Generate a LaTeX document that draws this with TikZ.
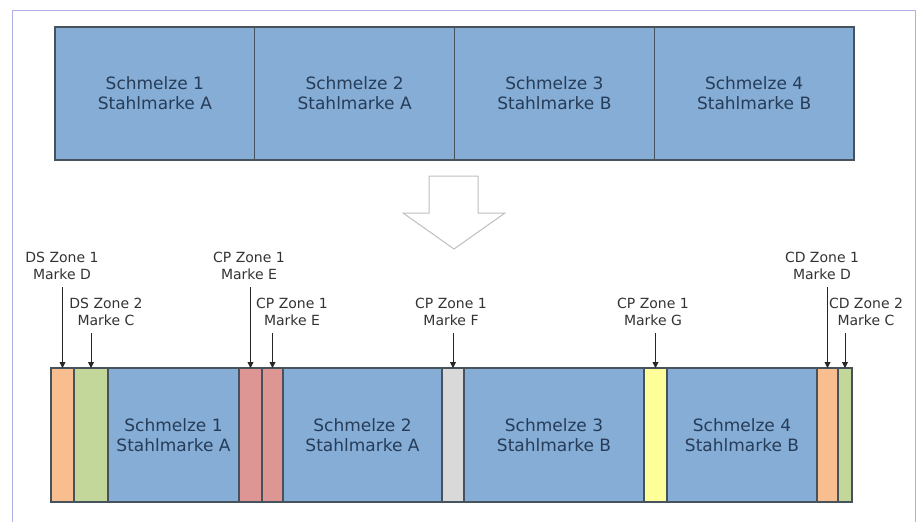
\documentclass[tikz,border=0pt]{standalone}
\usepackage{fontspec}
\setmainfont{DejaVu Sans}
\usetikzlibrary{positioning,arrows.meta}

\definecolor{schmelzeblau}{RGB}{133,173,213}
\definecolor{randgrau}{RGB}{70,82,92}
\definecolor{textblau}{RGB}{38,60,88}
\definecolor{zoneorange}{RGB}{249,190,143}
\definecolor{zonegruen}{RGB}{196,215,155}
\definecolor{zonerot}{RGB}{222,150,148}
\definecolor{zonegrau}{RGB}{217,217,217}
\definecolor{zonegelb}{RGB}{255,255,153}
\definecolor{rahmenlila}{RGB}{176,176,230}

\tikzset{
  seg/.style={draw=randgrau, line width=1.2pt, rectangle, inner sep=0pt, outer sep=0pt,
    minimum height=134pt, align=center, text=textblau,
    font=\fontsize{17}{20}\selectfont},
  schmelze/.style={seg, fill=schmelzeblau},
  zlabel/.style={align=center, inner sep=4pt, text=black!80,
    font=\fontsize{14}{17}\selectfont},
  zpfeil/.style={-{Triangle[length=6pt,width=6pt]}, line width=0.9pt, draw=black!85, shorten <=4pt},
  hohlpfeil/.style={draw=black!25, line width=1pt, fill=white, line join=miter},
  rahmen/.style={draw=rahmenlila, line width=1pt}
}

\begin{document}
\begin{tikzpicture}[x=1pt, y=-1pt, node distance=0pt]
\useasboundingbox (0,0) rectangle (923,522);
\draw[rahmen] (12,522) -- (12,10) -- (915,10) -- (915,522);
% obere Reihe
\node[schmelze, minimum width=199.75pt, minimum height=133pt] (s1) at (154.875,93.5) {Schmelze 1\\Stahlmarke A};
\node[schmelze, minimum width=199.75pt, minimum height=133pt, right=of s1] (s2) {Schmelze 2\\Stahlmarke A};
\node[schmelze, minimum width=199.75pt, minimum height=133pt, right=of s2] (s3) {Schmelze 3\\Stahlmarke B};
\node[schmelze, minimum width=199.75pt, minimum height=133pt, right=of s3] (s4) {Schmelze 4\\Stahlmarke B};
% Hohlpfeil
\draw[hohlpfeil] (429,176) -- (478,176) -- (478,213) -- (505,213) -- (454,249) -- (403,213) -- (429,213) -- cycle;
% untere Reihe
\node[seg, fill=zoneorange, minimum width=23pt] (z1) at (62.5,435) {};
\node[seg, fill=zonegruen, minimum width=34pt, right=of z1] (z2) {};
\node[schmelze, minimum width=131pt, right=of z2] (z3) {Schmelze 1\\Stahlmarke A};
\node[seg, fill=zonerot, minimum width=23pt, right=of z3] (z4) {};
\node[seg, fill=zonerot, minimum width=21pt, right=of z4] (z5) {};
\node[schmelze, minimum width=159pt, right=of z5] (z6) {Schmelze 2\\Stahlmarke A};
\node[seg, fill=zonegrau, minimum width=22pt, right=of z6] (z7) {};
\node[schmelze, minimum width=180pt, right=of z7] (z8) {Schmelze 3\\Stahlmarke B};
\node[seg, fill=zonegelb, minimum width=23pt, right=of z8] (z9) {};
\node[schmelze, minimum width=150pt, right=of z9] (z10) {Schmelze 4\\Stahlmarke B};
\node[seg, fill=zoneorange, minimum width=21pt, right=of z10] (z11) {};
\node[seg, fill=zonegruen, minimum width=14pt, right=of z11] (z12) {};
% Beschriftungen
\node[zlabel] (l1) at (62,265.5) {DS Zone 1\\Marke D};
\node[zlabel] (l2) at (106,311.5) {DS Zone 2\\Marke C};
\node[zlabel] (l3) at (249,265.5) {CP Zone 1\\Marke E};
\node[zlabel] (l4) at (292,311.5) {CP Zone 1\\Marke E};
\node[zlabel] (l5) at (451,311.5) {CP Zone 1\\Marke F};
\node[zlabel] (l6) at (653,311.5) {CP Zone 1\\Marke G};
\node[zlabel] (l7) at (822,265.5) {CD Zone 1\\Marke D};
\node[zlabel] (l8) at (866,311.5) {CD Zone 2\\Marke C};
\draw[zpfeil] (l1.south -| z1.north) -- (z1.north);
\draw[zpfeil] (l2.south -| z2.north) -- (z2.north);
\draw[zpfeil] (l3.south -| z4.north) -- (z4.north);
\draw[zpfeil] (l4.south -| z5.north) -- (z5.north);
\draw[zpfeil] (l5.south -| z7.north) -- (z7.north);
\draw[zpfeil] (l6.south -| z9.north) -- (z9.north);
\draw[zpfeil] (l7.south -| z11.north) -- (z11.north);
\draw[zpfeil] (l8.south -| z12.north) -- (z12.north);
\end{tikzpicture}
\end{document}
